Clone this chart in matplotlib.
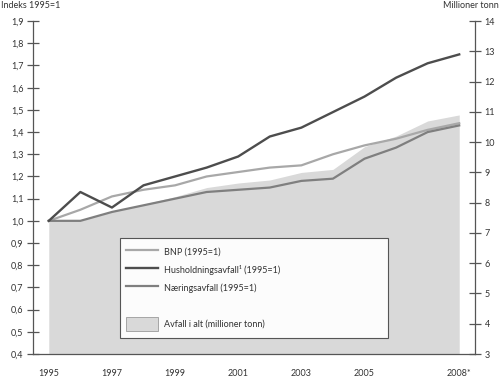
import matplotlib
matplotlib.use("Agg")
import matplotlib.pyplot as plt
from matplotlib.lines import Line2D
from matplotlib.patches import Patch

plt.rcParams['font.family'] = ['Lato', 'DejaVu Sans']

years = [1995, 1996, 1997, 1998, 1999, 2000, 2001, 2002, 2003, 2004, 2005, 2006, 2007, 2008]
bnp = [1.0, 1.05, 1.11, 1.14, 1.16, 1.20, 1.22, 1.24, 1.25, 1.30, 1.34, 1.37, 1.41, 1.44]
hush = [1.0, 1.13, 1.06, 1.16, 1.20, 1.24, 1.29, 1.38, 1.42, 1.49, 1.56, 1.645, 1.71, 1.75]
naering = [1.0, 1.0, 1.04, 1.07, 1.10, 1.13, 1.14, 1.15, 1.18, 1.19, 1.28, 1.33, 1.40, 1.43]
avfall = [7.4, 7.4, 7.7, 7.95, 8.2, 8.5, 8.65, 8.75, 9.0, 9.1, 9.85, 10.2, 10.7, 10.9]

xticks = [1995, 1997, 1999, 2001, 2003, 2005, 2008]
xlabels = ['1995', '1997', '1999', '2001', '2003', '2005', '2008*']
left_ticks = [0.4, 0.5, 0.6, 0.7, 0.8, 0.9, 1.0, 1.1, 1.2, 1.3, 1.4, 1.5, 1.6, 1.7, 1.8, 1.9]
right_ticks = list(range(3, 15))

spine_col = '#555555'
txt_col = '#333333'
fs = 6.5

fig = plt.figure(figsize=(5, 3.77), dpi=100)
ax = fig.add_axes([0.066, 0.061, 0.884, 0.883])
ax2 = ax.twinx()

ax2.fill_between(years, 3, avfall, color='#d9d9d9', lw=0)
ax2.set_ylim(3, 14)
ax2.set_yticks(right_ticks)
ax2.set_yticklabels([str(t) for t in right_ticks])

ax.set_zorder(ax2.get_zorder() + 1)
ax.patch.set_visible(False)

ax.plot(years, bnp, color='#a8a8a8', lw=1.6)
ax.plot(years, naering, color='#7f7f7f', lw=1.6)
ax.plot(years, hush, color='#4d4d4d', lw=1.7)

ax.set_xlim(1994.5, 2008.5)
ax.set_ylim(0.4, 1.9)
ax.set_yticks(left_ticks)
ax.set_yticklabels([('%.1f' % t).replace('.', ',') for t in left_ticks])
ax.set_xticks(xticks)
ax.set_xticklabels(xlabels)

for a in (ax, ax2):
    for s in a.spines.values():
        s.set_color(spine_col)
        s.set_linewidth(0.9)
    a.spines['top'].set_visible(False)
ax.spines['right'].set_visible(False)
ax2.spines['left'].set_visible(False)
ax2.spines['bottom'].set_visible(False)

ax.tick_params(axis='y', direction='inout', length=8, width=0.9, color=spine_col,
               labelsize=fs, labelcolor=txt_col, pad=3)
ax.tick_params(axis='x', length=0, labelsize=fs, labelcolor=txt_col, pad=11)
ax2.tick_params(axis='y', direction='inout', length=8, width=0.9, color=spine_col,
                labelsize=fs, labelcolor=txt_col, pad=3)

fig.text(0.002, 1 - 6 / 377, 'Indeks 1995=1', fontsize=fs, color=txt_col, va='center', ha='left')
fig.text(0.998, 1 - 6 / 377, 'Millioner tonn', fontsize=fs, color=txt_col, va='center', ha='right')

handles = [
    Line2D([], [], color='#a8a8a8', lw=1.6),
    Line2D([], [], color='#4d4d4d', lw=1.7),
    Line2D([], [], color='#7f7f7f', lw=1.6),
    Line2D([], [], color='none'),
    Patch(facecolor='#d9d9d9', edgecolor='#9a9a9a', lw=0.6),
]
labels = ['BNP (1995=1)', 'Husholdningsavfall¹ (1995=1)', 'Næringsavfall (1995=1)', '',
          'Avfall i alt (millioner tonn)']
leg = ax.legend(handles, labels, loc='lower left', bbox_to_anchor=(0.1855, 0.035, 0.629, 0.32),
                mode='expand', fontsize=fs, handlelength=3.5, handleheight=2.0,
                labelspacing=0.45, borderpad=0.75, handletextpad=0.7, fancybox=False,
                framealpha=1, labelcolor=txt_col)
leg.get_frame().set_edgecolor(spine_col)
leg.get_frame().set_linewidth(0.8)
leg.get_frame().set_facecolor('#fcfcfc')

fig.savefig('out.png', dpi=100)
